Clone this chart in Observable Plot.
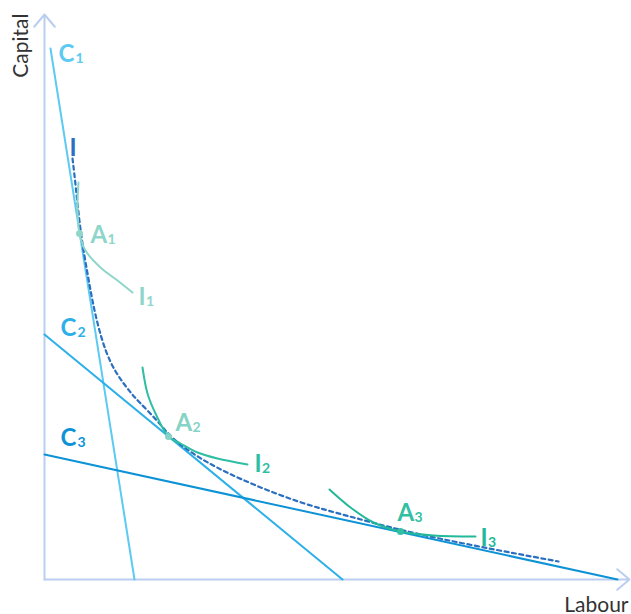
<!DOCTYPE html>
<html><head><meta charset="utf-8">
<script src="https://cdn.jsdelivr.net/npm/d3@7"></script>
<script src="https://cdn.jsdelivr.net/npm/@observablehq/plot@0.6"></script>
<style>body{margin:0;background:#fff;} svg{display:block}</style>
</head><body><div id="chart"></div>
<script>
// Axis extents (labour, capital units)
const labourMax = 585;
const capitalMax = 565;

// Isocost (budget) lines: [labour, capital]
const C1 = [[6, 531], [90, 0]];
const C2 = [[0, 245], [298, 0]];
const C3 = [[0, 125], [573, 0]];

// Long-run expansion curve I (dashed)
const curveI = [[28,421],[31,396],[36,346],[43,306],[49,272],[57,240],[66,216],[76,200],[86,187],[93,179],[113,159],[126,142],[153,122],[193,101],[256,76],[306,63],[356,49],[433,33],[514,18]];

// Isoquants
const I1 = [[34,397],[33,371],[35,346],[41,329],[56,312],[73,299],[88,287]];
const I2 = [[98,212],[103,186],[111,166],[124,143],[136,136],[153,127],[173,121],[203,115]];
const I3 = [[285,90],[306,72],[329,57],[356,48],[389,44],[431,43]];

// Tangency points
const pointNames = ["A1", "A2", "A3"];
const pointLabour = [35, 124, 356];
const pointCapital = [346, 143, 48];

// Labels: letter, subscript, position
const labelLetters = ["C","C","C","A","A","A","I","I","I","I"];
const labelSubs    = ["1","2","3","1","2","3","1","2","3",""];
const labelLabour  = [14, 16, 16, 46, 131, 353, 94, 210, 436, 25];
const labelCapital = [518, 244, 134, 337, 149, 59, 275, 108, 34, 424];

// Styles
const colors = {
  C1: "#5ccaf2", C2: "#2db0e8", C3: "#0d93d5",
  I: "#2a6fc0",
  I1: "#8fd6ca", I2: "#2dbea3", I3: "#22b899",
  A1: "#8fd6ca", A2: "#85d3c6", A3: "#34bfa2",
  axis: "#b9cef0"
};
const labelColor = (l, s) => {
  if (l === "C") return colors["C" + s];
  if (l === "I" && s === "") return colors.I;
  if (l === "A") return colors["A" + s];
  return colors["I" + s];
};

const toRows = (arr, name) => arr.map(([x, y]) => ({x, y, name}));
const labels = labelLetters.map((l, i) => ({letter: l, sub: labelSubs[i], x: labelLabour[i], y: labelCapital[i], color: labelColor(l, labelSubs[i])}));
const points = pointNames.map((n, i) => ({name: n, x: pointLabour[i], y: pointCapital[i]}));

const lineOpts = (name, w) => ({x: "x", y: "y", stroke: colors[name], strokeWidth: w});
const subOpts = (dx) => ({x: "x", y: "y", text: "sub", fill: "color", textAnchor: "start", lineAnchor: "bottom", fontSize: 14, fontWeight: 700, dx, dy: 1});

const chart = Plot.plot({
  width: 631, height: 614,
  marginLeft: 44, marginRight: 2, marginTop: 14, marginBottom: 35,
  x: {domain: [0, labourMax], axis: null},
  y: {domain: [0, capitalMax], axis: null},
  style: {fontFamily: "Lato, sans-serif", background: "#fff"},
  marks: [
    Plot.arrow([{x1: 0, y1: 0, x2: 0, y2: capitalMax}], {x1: "x1", y1: "y1", x2: "x2", y2: "y2", stroke: colors.axis, strokeWidth: 2, headAngle: 80, headLength: 12}),
    Plot.arrow([{x1: 0, y1: 0, x2: labourMax, y2: 0}], {x1: "x1", y1: "y1", x2: "x2", y2: "y2", stroke: colors.axis, strokeWidth: 2, headAngle: 80, headLength: 12}),
    Plot.line(toRows(C1), lineOpts("C1", 2)),
    Plot.line(toRows(C2), lineOpts("C2", 2)),
    Plot.line(toRows(C3), lineOpts("C3", 2)),
    Plot.line(toRows(curveI), {...lineOpts("I", 2.2), strokeDasharray: "4,3.5", curve: "basis"}),
    Plot.line(toRows(I1), {...lineOpts("I1", 2), curve: "catmull-rom"}),
    Plot.line(toRows(I2), {...lineOpts("I2", 2), curve: "catmull-rom"}),
    Plot.line(toRows(I3), {...lineOpts("I3", 2), curve: "catmull-rom"}),
    Plot.dot(points, {x: "x", y: "y", r: 3.5, fill: d => colors[d.name], stroke: null}),
    Plot.text(labels, {x: "x", y: "y", text: "letter", fill: "color", textAnchor: "start", lineAnchor: "bottom", fontSize: 24, fontWeight: 700}),
    Plot.text(labels.filter(d => d.letter === "C"), subOpts(17)),
    Plot.text(labels.filter(d => d.letter === "A"), subOpts(17)),
    Plot.text(labels.filter(d => d.letter === "I"), subOpts(7.5)),
    Plot.text(["Capital"], {frameAnchor: "top-left", text: d => d, rotate: -90, textAnchor: "end", lineAnchor: "bottom", fontSize: 21, fill: "#333", dx: -17, dy: -1}),
    Plot.text(["Labour"], {frameAnchor: "bottom-right", text: d => d, textAnchor: "end", lineAnchor: "bottom", fontSize: 21, fill: "#333", dx: -1, dy: 32})
  ]
});
document.getElementById("chart").appendChild(chart);
</script>
</body></html>
